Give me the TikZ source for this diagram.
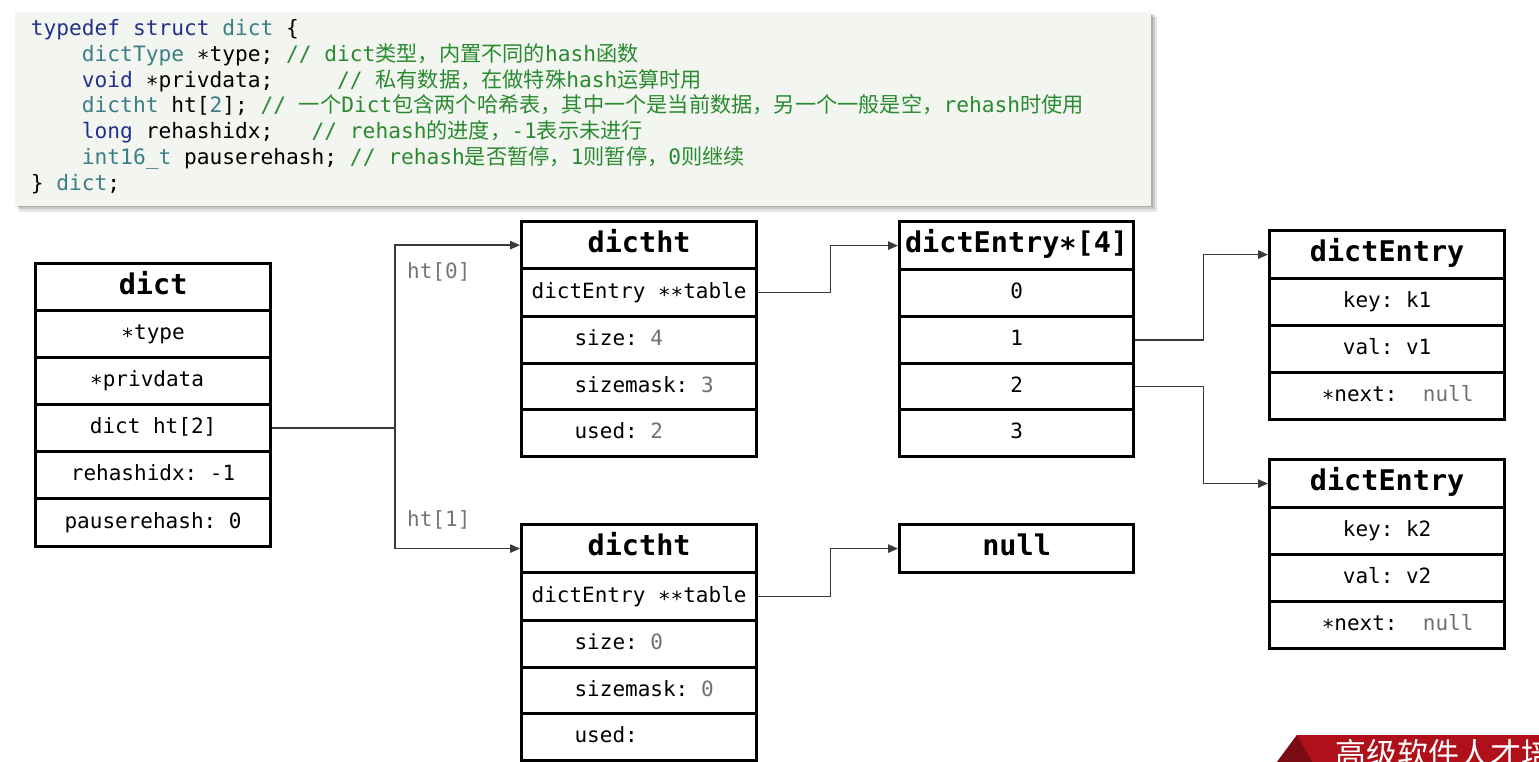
\documentclass[tikz,border=0pt]{standalone}
\usepackage{fontspec}
\setmonofont{DejaVu Sans Mono}
\newfontfamily\cjk{Noto Sans CJK SC}
\usetikzlibrary{arrows.meta}
\definecolor{kwblue}{HTML}{23318C}
\definecolor{tyteal}{HTML}{3B7E86}
\definecolor{cmtgreen}{HTML}{2A8A30}
\definecolor{codebg}{HTML}{F3F6F0}
\definecolor{valgray}{HTML}{707070}
\definecolor{lblgray}{HTML}{777777}
\definecolor{linkgray}{HTML}{3A3A3A}
\definecolor{bannerred}{HTML}{B0101A}
\newcommand\rowfont{\ttfamily\fontsize{21}{25}\selectfont}
\newcommand\headfont{\ttfamily\bfseries\fontsize{28.5}{34}\selectfont}
\newcommand\codefont{\ttfamily\fontsize{21.2}{26}\selectfont}
\newcommand\kwd[1]{\textcolor{kwblue}{#1}}
\newcommand\typ[1]{\textcolor{tyteal}{#1}}
\newcommand\cmt[1]{\textcolor{cmtgreen}{#1}}
\newcommand\zh[1]{{\cjk #1}}
\newcommand\gv[1]{\textcolor{valgray}{#1}}
\newcommand\lalign[1]{\makebox[129pt][l]{#1}}
\tikzset{
  cell/.style={draw=black, line width=3.2pt, minimum width=235pt, inner sep=0pt,
    anchor=north west, font=\rowfont, text height=15pt, text depth=4pt},
  hdcell/.style={cell, font=\headfont, text height=20pt, text depth=5.5pt},
  link/.style={draw=linkgray, line width=1.3pt},
  arrowlink/.style={link, -{Triangle[length=10pt,width=8.5pt]}},
  codeline/.style={anchor=base west, inner sep=0pt, font=\codefont},
  lbl/.style={anchor=west, inner sep=0pt, font=\rowfont, text=lblgray},
}
\begin{document}
\begin{tikzpicture}[x=1pt,y=-1pt]
\useasboundingbox (0,0) rectangle (1539,762);
\clip (0,0) rectangle (1539,762);
\fill[white] (0,0) rectangle (1539,762);

% code block with shadow
\fill[black, opacity=0.10] (19,17) rectangle (1157,212);
\fill[black, opacity=0.12] (18,15) rectangle (1155,209);
\fill[black, opacity=0.14] (17,14) rectangle (1153,207);
\node[fill=codebg, minimum width=1136pt, minimum height=194pt, inner sep=0pt, anchor=north west] (code) at (15,12) {};

\node[codeline] (c1) at (30.7,35.5) {\kwd{typedef}~\kwd{struct}~\typ{dict}~\{};
\node[codeline] (c2) at (30.7,61.3) {~~~~\typ{dictType}~∗type;~\cmt{//~dict\zh{类型，内置不同的}hash\zh{函数}}};
\node[codeline] (c3) at (30.7,87.1) {~~~~\kwd{void}~∗privdata;~~~~~\cmt{//~\zh{私有数据，在做特殊}hash\zh{运算时用}}};
\node[codeline] (c4) at (30.7,112.9) {~~~~\typ{dictht}~ht[\typ{2}];~\cmt{//~\zh{一个}Dict\zh{包含两个哈希表，其中一个是当前数据，另一个一般是空，}rehash\zh{时使用}}};
\node[codeline] (c5) at (30.7,138.7) {~~~~\kwd{long}~rehashidx;~~~\cmt{//~rehash\zh{的进度，}-1\zh{表示未进行}}};
\node[codeline] (c6) at (30.7,164.5) {~~~~\typ{int16\_t}~pauserehash;~\cmt{//~rehash\zh{是否暂停，}1\zh{则暂停，}0\zh{则继续}}};
\node[codeline] (c7) at (30.7,190.3) {\}~\typ{dict};};

% dict
\node[hdcell, minimum height=47pt] (d0) at (34,262) {dict};
\node[cell, minimum height=47pt] (d1) at (34,309) {∗type};
\node[cell, minimum height=47pt] (d2) at (34,356) {∗privdata\hspace*{12pt}};
\node[cell, minimum height=47pt] (d3) at (34,403) {dict ht[2]};
\node[cell, minimum height=47pt] (d4) at (34,450) {rehashidx: -1};
\node[cell, minimum height=48pt] (d5) at (34,497) {pauserehash: 0};

% dictht ht[0]
\node[hdcell, minimum height=47pt] (a0) at (520,220) {dictht};
\node[cell, minimum height=48pt] (a1) at (520,267) {dictEntry ∗∗table};
\node[cell, minimum height=47pt] (a2) at (520,315) {\lalign{size: \gv{4}}};
\node[cell, minimum height=46pt] (a3) at (520,362) {\lalign{sizemask: \gv{3}}};
\node[cell, minimum height=47pt] (a4) at (520,408) {\lalign{used: \gv{2}}};

% dictEntry*[4]
\node[hdcell, minimum width=234pt, minimum height=48pt] (t0) at (898,220) {dictEntry∗[4]};
\node[cell, minimum width=234pt, minimum height=47pt] (t1) at (898,268) {0};
\node[cell, minimum width=234pt, minimum height=47pt] (t2) at (898,315) {1};
\node[cell, minimum width=234pt, minimum height=46pt] (t3) at (898,362) {2};
\node[cell, minimum width=234pt, minimum height=47pt] (t4) at (898,408) {3};

% dictEntry 1
\node[hdcell, minimum height=48pt] (e0) at (1268,229) {dictEntry};
\node[cell, minimum height=47pt] (e1) at (1268,277) {key: k1};
\node[cell, minimum height=47pt] (e2) at (1268,324) {val: v1};
\node[cell, minimum height=47pt] (e3) at (1268,371) {\hspace*{21pt}∗next:~~\gv{null}};

% dictEntry 2
\node[hdcell, minimum height=48pt] (f0) at (1268,458) {dictEntry};
\node[cell, minimum height=47pt] (f1) at (1268,506) {key: k2};
\node[cell, minimum height=47pt] (f2) at (1268,553) {val: v2};
\node[cell, minimum height=47pt] (f3) at (1268,600) {\hspace*{21pt}∗next:~~\gv{null}};

% dictht ht[1]
\node[hdcell, minimum height=48pt] (b0) at (520,523) {dictht};
\node[cell, minimum height=48pt] (b1) at (520,571) {dictEntry ∗∗table};
\node[cell, minimum height=47pt] (b2) at (520,619) {\lalign{size: \gv{0}}};
\node[cell, minimum height=46pt] (b3) at (520,666) {\lalign{sizemask: \gv{0}}};
\node[cell, minimum height=47pt] (b4) at (520,712) {\lalign{used:}};

% null
\node[hdcell, minimum width=234pt, minimum height=48pt] (n0) at (898,523) {null};

% labels
\node[lbl] (l0) at (407,272) {ht[0]};
\node[lbl] (l1) at (407,520) {ht[1]};

% connectors
\coordinate (jn) at (395,427);
\draw[link] (d3.east) -- (d3.east -| jn);
\draw[arrowlink] (d3.east -| jn) |- (a0.west);
\draw[arrowlink] (d3.east -| jn) |- (b0.west);
\draw[arrowlink] (a1.east) -- ++(72,0) |- (t0.west);
\draw[arrowlink] (t2.east) -- ++(68,0) |- (e0.west);
\draw[arrowlink] (t3.east) -- ++(68,0) |- (f0.west);
\draw[arrowlink] (b1.east) -- ++(72,0) |- (n0.west);

% banner
\fill[bannerred] (1277,762) -- (1297,735) -- (1539,735) -- (1539,762) -- cycle;
\fill[bannerred!70!black] (1277,762) -- (1297,735) -- (1312,762) -- cycle;
\node[anchor=base west, inner sep=0pt, text=white, font=\cjk\fontsize{31}{31}\selectfont] (ban) at (1335,765) {高级软件人才培};
\end{tikzpicture}
\end{document}
